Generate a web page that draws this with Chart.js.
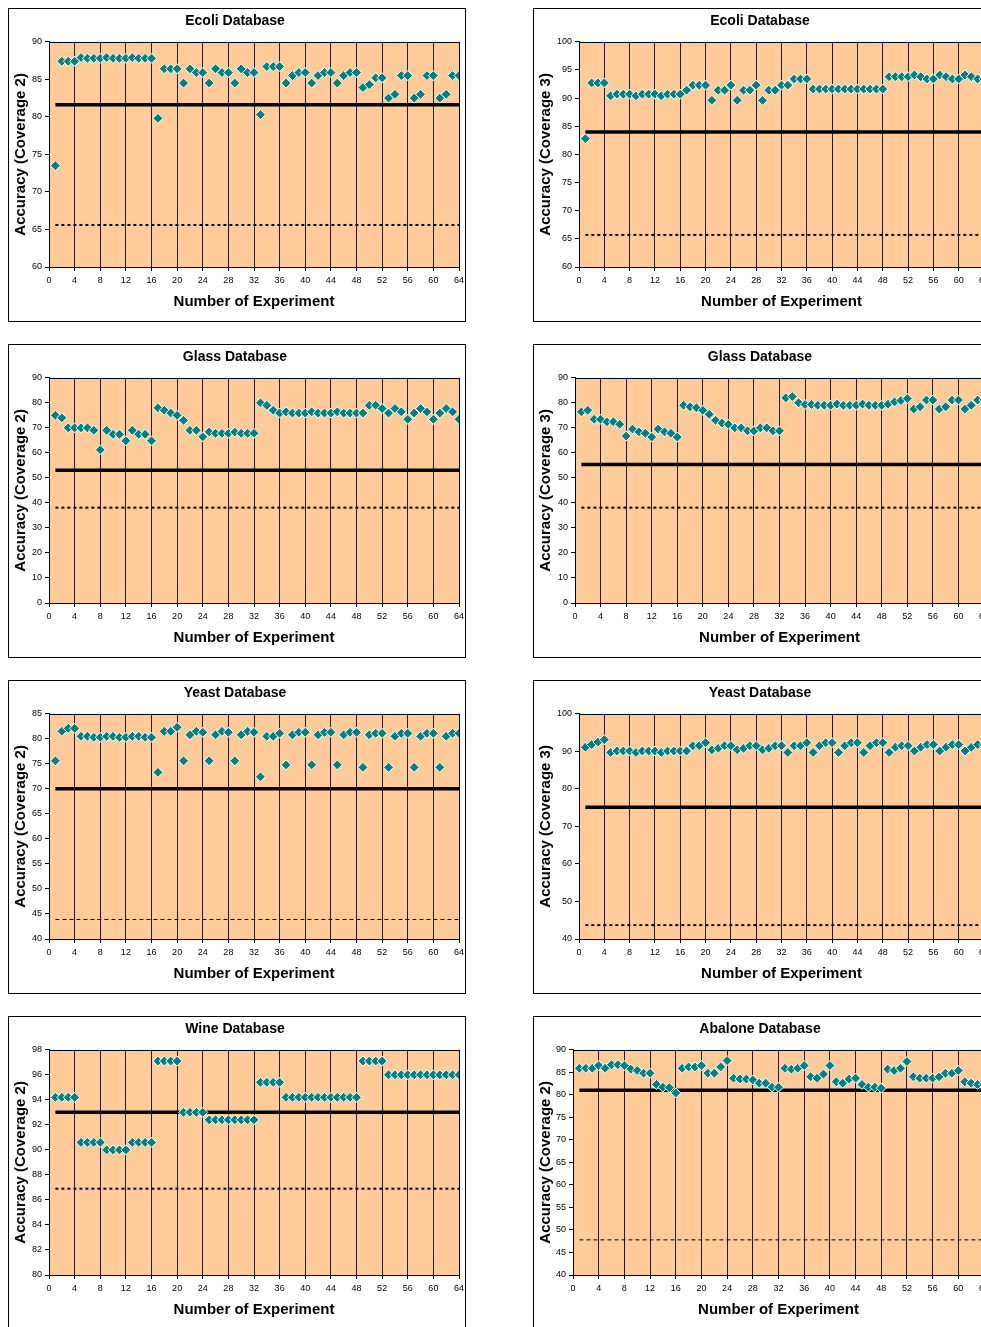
<!DOCTYPE html>
<html>
<head>
<meta charset="utf-8">
<script src="https://cdn.jsdelivr.net/npm/chart.js@4.4.1/dist/chart.umd.min.js"></script>
<style>
  html, body { margin: 0; padding: 0; background: #fff; }
  body { width: 981px; height: 1327px; overflow: hidden; position: relative; }
  .panel { position: absolute; width: 456px; height: 312px; border: 1px solid #000; background: #fff; }
  .panel canvas { display: block; }
</style>
</head>
<body>
<script>
const titles = ['Ecoli Database', 'Ecoli Database', 'Glass Database', 'Glass Database',
                'Yeast Database', 'Yeast Database', 'Wine Database', 'Abalone Database'];
const yTitles = ['Accuracy (Coverage 2)', 'Accuracy (Coverage 3)', 'Accuracy (Coverage 2)', 'Accuracy (Coverage 3)',
                 'Accuracy (Coverage 2)', 'Accuracy (Coverage 3)', 'Accuracy (Coverage 2)', 'Accuracy (Coverage 2)'];
const xTitle = 'Number of Experiment';
const yMin = [60, 60, 0, 0, 40, 40, 80, 40];
const yMax = [90, 100, 90, 90, 85, 100, 98, 90];
const yStep = [5, 5, 10, 10, 5, 10, 2, 5];
const xTicks = [0, 4, 8, 12, 16, 20, 24, 28, 32, 36, 40, 44, 48, 52, 56, 60, 64];
const experiments = Array.from({ length: 64 }, (_, i) => i + 1);

// horizontal reference levels (solid = thick line, dotted = dashed line)
const solidLevel = [81.6, 84.0, 53.1, 55.4, 70.0, 75.1, 93.0, 81.0];
const dottedLevel = [65.6, 65.7, 38.1, 38.1, 43.9, 43.7, 86.9, 47.8];

const ecoliCov2 = [73.5, 87.4, 87.4, 87.4, 87.9, 87.8, 87.8, 87.8, 87.9, 87.8, 87.8, 87.8, 87.9, 87.8, 87.8, 87.8,
  79.8, 86.4, 86.4, 86.4, 84.5, 86.4, 85.9, 85.9, 84.5, 86.4, 85.9, 85.9, 84.5, 86.4, 85.9, 85.9,
  80.3, 86.7, 86.7, 86.7, 84.5, 85.5, 85.9, 85.9, 84.5, 85.5, 85.9, 85.9, 84.5, 85.5, 85.9, 85.9,
  83.9, 84.3, 85.2, 85.2, 82.5, 83.0, 85.5, 85.5, 82.5, 83.0, 85.5, 85.5, 82.5, 83.0, 85.5, 85.5];
const ecoliCov3 = [82.8, 92.7, 92.7, 92.7, 90.4, 90.7, 90.7, 90.7, 90.4, 90.7, 90.7, 90.7, 90.4, 90.7, 90.7, 90.7,
  91.4, 92.3, 92.3, 92.3, 89.6, 91.4, 91.4, 92.3, 89.6, 91.4, 91.4, 92.3, 89.6, 91.4, 91.4, 92.3,
  92.3, 93.4, 93.4, 93.4, 91.6, 91.6, 91.6, 91.6, 91.6, 91.6, 91.6, 91.6, 91.6, 91.6, 91.6, 91.6,
  93.8, 93.8, 93.8, 93.8, 94.1, 93.8, 93.4, 93.4, 94.1, 93.8, 93.4, 93.4, 94.1, 93.8, 93.4, 93.4];
const glassCov2 = [75.0, 74.0, 70.0, 70.0, 70.0, 70.0, 69.0, 61.2, 69.0, 67.4, 67.4, 64.8, 69.0, 67.4, 67.4, 64.8,
  78.0, 77.0, 75.9, 75.0, 73.0, 69.0, 69.0, 66.4, 68.4, 67.8, 67.8, 67.8, 68.3, 67.8, 67.8, 67.8,
  80.0, 79.0, 77.0, 75.9, 76.4, 75.9, 75.9, 75.9, 76.4, 75.9, 75.9, 75.9, 76.4, 75.9, 75.9, 75.9,
  75.9, 79.0, 79.0, 77.7, 75.9, 77.7, 76.4, 73.4, 75.9, 77.7, 76.4, 73.4, 75.9, 77.7, 76.4, 73.4];
const glassCov3 = [76.4, 77.0, 73.4, 73.4, 72.4, 72.4, 71.4, 66.7, 69.5, 68.4, 67.8, 66.3, 69.5, 68.4, 67.8, 66.3,
  79.0, 78.4, 78.0, 77.0, 75.4, 73.0, 71.9, 71.4, 70.0, 70.0, 68.8, 68.8, 70.0, 70.0, 68.8, 68.8,
  82.0, 82.5, 80.0, 79.3, 79.3, 79.0, 79.0, 79.0, 79.5, 79.0, 79.0, 79.0, 79.5, 79.0, 79.0, 79.0,
  79.5, 80.4, 80.9, 81.7, 77.5, 78.4, 81.1, 81.1, 77.5, 78.4, 81.1, 81.1, 77.5, 79.0, 81.1, 81.1];
const yeastCov2 = [75.6, 81.5, 82.1, 82.1, 80.5, 80.5, 80.3, 80.3, 80.5, 80.5, 80.3, 80.3, 80.5, 80.5, 80.3, 80.3,
  73.3, 81.5, 81.5, 82.3, 75.6, 80.8, 81.5, 81.3, 75.6, 80.8, 81.5, 81.3, 75.6, 80.8, 81.5, 81.3,
  72.4, 80.5, 80.5, 81.1, 74.8, 80.8, 81.3, 81.3, 74.8, 80.8, 81.3, 81.3, 74.8, 80.8, 81.3, 81.3,
  74.3, 80.8, 81.1, 81.1, 74.3, 80.5, 81.1, 81.1, 74.3, 80.5, 81.1, 81.1, 74.3, 80.5, 81.1, 81.1];
const yeastCov3 = [91.1, 91.8, 92.5, 93.1, 89.7, 90.1, 90.1, 90.1, 89.7, 90.1, 90.1, 90.1, 89.7, 90.1, 90.1, 90.1,
  90.1, 91.5, 91.5, 92.3, 90.4, 90.8, 91.5, 91.5, 90.4, 90.8, 91.5, 91.5, 90.4, 90.8, 91.5, 91.5,
  89.7, 91.5, 91.5, 92.3, 89.7, 91.5, 92.3, 92.3, 89.7, 91.5, 92.3, 92.3, 89.7, 91.5, 92.3, 92.3,
  89.7, 91.1, 91.5, 91.5, 90.1, 91.1, 91.8, 91.8, 90.1, 91.1, 91.8, 91.8, 90.1, 91.1, 91.8, 91.8];
const wineCov2 = [94.2, 94.2, 94.2, 94.2, 90.6, 90.6, 90.6, 90.6, 90.0, 90.0, 90.0, 90.0, 90.6, 90.6, 90.6, 90.6,
  97.1, 97.1, 97.1, 97.1, 93.0, 93.0, 93.0, 93.0, 92.4, 92.4, 92.4, 92.4, 92.4, 92.4, 92.4, 92.4,
  95.4, 95.4, 95.4, 95.4, 94.2, 94.2, 94.2, 94.2, 94.2, 94.2, 94.2, 94.2, 94.2, 94.2, 94.2, 94.2,
  97.1, 97.1, 97.1, 97.1, 96.0, 96.0, 96.0, 96.0, 96.0, 96.0, 96.0, 96.0, 96.0, 96.0, 96.0, 96.0];
const abaloneCov2 = [85.9, 85.9, 85.9, 86.5, 85.9, 86.7, 86.7, 86.5, 85.7, 85.4, 84.8, 84.8, 82.3, 81.7, 81.6, 80.4,
  85.9, 86.2, 86.2, 86.5, 84.8, 84.8, 86.2, 87.6, 83.7, 83.5, 83.5, 83.3, 82.6, 82.6, 81.7, 81.7,
  85.9, 85.7, 85.9, 86.5, 84.0, 83.7, 84.6, 86.5, 82.9, 82.6, 83.5, 83.7, 82.3, 81.7, 81.7, 81.5,
  85.7, 85.4, 85.9, 87.4, 84.0, 83.7, 83.7, 83.7, 84.0, 84.8, 84.8, 85.4, 82.9, 82.6, 82.3, 82.3];

const series = [ecoliCov2, ecoliCov3, glassCov2, glassCov3, yeastCov2, yeastCov3, wineCov2, abaloneCov2];

// layout of the boxes on the page
const yAxisWidth = [40, 45, 40, 41, 40, 45, 40, 39];
const thinDots = [false, false, false, false, true, false, false, true];

const FONT = "'Liberation Sans', Arial, sans-serif";

const plotBackground = {
  id: 'plotBackground',
  beforeDraw(chart) {
    const { ctx, chartArea: a } = chart;
    ctx.save();
    ctx.fillStyle = '#FFCC99';
    ctx.fillRect(a.left, a.top, a.right - a.left, a.bottom - a.top);
    ctx.restore();
  },
  afterDraw(chart) {
    const { ctx, chartArea: a } = chart;
    ctx.save();
    ctx.strokeStyle = '#000';
    ctx.lineWidth = 1;
    ctx.strokeRect(Math.round(a.left) + 0.5, Math.round(a.top) + 0.5,
      Math.round(a.right - a.left), Math.round(a.bottom - a.top));
    ctx.restore();
  }
};

series.forEach((values, i) => {
  const col = i % 2;
  const row = Math.floor(i / 2);
  const box = document.createElement('div');
  box.className = 'panel';
  box.style.left = (col === 0 ? 8 : 533) + 'px';
  box.style.top = (8 + row * 336) + 'px';
  const canvas = document.createElement('canvas');
  canvas.width = 456;
  canvas.height = 312;
  box.appendChild(canvas);
  document.body.appendChild(box);

  const points = experiments.map((x, k) => ({ x: x, y: values[k] }));
  const solid = [{ x: experiments[0], y: solidLevel[i] }, { x: experiments[experiments.length - 1], y: solidLevel[i] }];
  const dotted = [{ x: experiments[0], y: dottedLevel[i] }, { x: experiments[experiments.length - 1], y: dottedLevel[i] }];

  new Chart(canvas, {
    type: 'scatter',
    data: {
      datasets: [
        {
          data: points,
          order: 0,
          pointStyle: 'rectRot',
          pointRadius: 5,
          pointBackgroundColor: '#008080',
          pointBorderColor: '#ffffff',
          pointBorderWidth: 1,
          showLine: false
        },
        {
          data: solid,
          order: 1,
          showLine: true,
          borderColor: '#000',
          borderWidth: 3.5,
          pointRadius: 0
        },
        {
          data: dotted,
          order: 2,
          showLine: true,
          borderColor: '#000',
          borderWidth: thinDots[i] ? 1 : 2,
          borderDash: thinDots[i] ? [4, 3] : [3, 3],
          pointRadius: 0
        }
      ]
    },
    options: {
      responsive: false,
      animation: false,
      layout: { padding: { left: 0, right: 4, top: 0, bottom: 0 } },
      plugins: {
        legend: { display: false },
        tooltip: { enabled: false },
        title: {
          display: true,
          text: titles[i],
          color: '#000',
          font: { family: FONT, size: 14, weight: 'bold' },
          padding: { top: 4, bottom: 12 }
        }
      },
      scales: {
        x: {
          type: 'linear',
          min: 0,
          max: 64,
          afterBuildTicks: (scale) => { scale.ticks = xTicks.map(v => ({ value: v })); },
          afterFit: (scale) => {
            scale.height = 54;
            scale.paddingLeft = 0;
            scale.paddingRight = 0;
          },
          ticks: {
            autoSkip: false,
            maxRotation: 0,
            padding: 4,
            color: '#000',
            font: { family: FONT, size: 9 }
          },
          grid: {
            color: '#1a1a1a',
            lineWidth: 1,
            tickLength: 4,
            tickColor: '#000'
          },
          border: { display: true, color: '#000' },
          title: {
            display: true,
            text: xTitle,
            color: '#000',
            font: { family: FONT, size: 15, weight: 'bold' },
            padding: { top: 2, bottom: 10 }
          }
        },
        y: {
          type: 'linear',
          min: yMin[i],
          max: yMax[i],
          afterFit: (scale) => { scale.width = yAxisWidth[i]; },
          ticks: {
            stepSize: yStep[i],
            padding: 3,
            color: '#000',
            font: { family: FONT, size: 9 }
          },
          grid: {
            drawOnChartArea: false,
            drawTicks: true,
            tickLength: 4,
            tickColor: '#000'
          },
          border: { display: true, color: '#000' },
          title: {
            display: true,
            text: yTitles[i],
            color: '#000',
            font: { family: FONT, size: 15, weight: 'bold' },
            padding: { top: 3, bottom: 0 }
          }
        }
      }
    },
    plugins: [plotBackground]
  });
});
</script>
</body>
</html>
